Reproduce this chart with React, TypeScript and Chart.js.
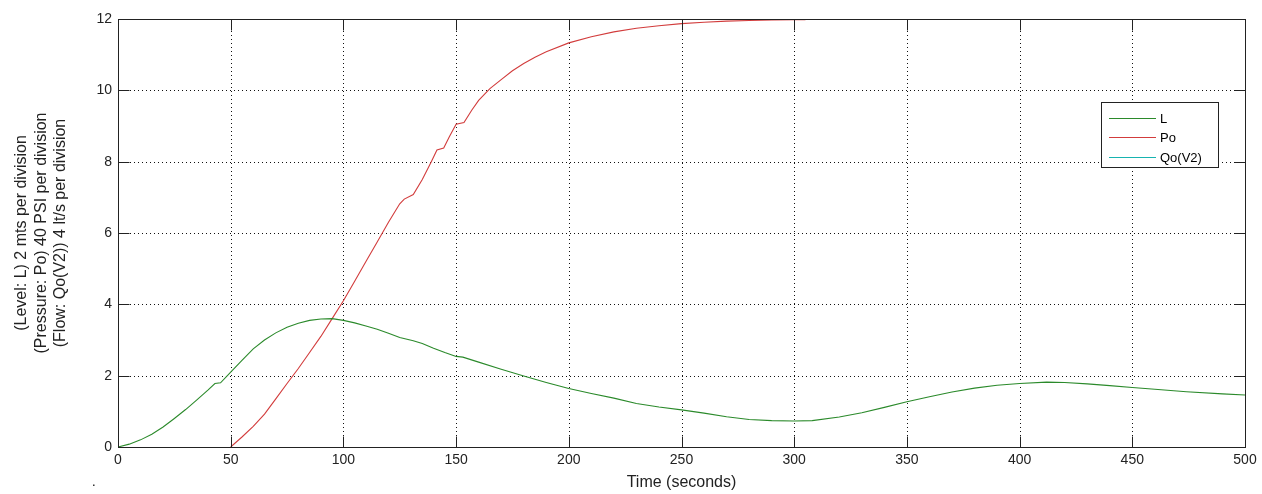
import React, { useEffect, useRef } from "react";
import { Chart, registerables } from "chart.js";

Chart.register(...registerables);

// ---- data ----
const timeL = [0, 5, 10, 15, 20, 25, 30, 35, 40, 43, 45.5, 50, 55, 60, 65, 70, 75, 80, 85, 90, 95, 100, 105, 110, 115, 120, 125, 131, 135, 140, 145, 150, 153, 160, 170, 180, 190, 200, 210, 220, 230, 240, 250, 260, 270, 280, 290, 300, 308, 320, 330, 340, 350, 360, 370, 380, 390, 400, 412, 420, 430, 440, 450, 460, 474, 490, 500];
const levelL = [0, 0.08, 0.2, 0.36, 0.56, 0.8, 1.05, 1.32, 1.6, 1.78, 1.8, 2.1, 2.43, 2.75, 3.0, 3.2, 3.36, 3.47, 3.55, 3.59, 3.6, 3.55, 3.48, 3.39, 3.3, 3.19, 3.07, 2.98, 2.9, 2.77, 2.65, 2.54, 2.52, 2.38, 2.18, 1.99, 1.81, 1.64, 1.5, 1.37, 1.22, 1.12, 1.04, 0.95, 0.85, 0.77, 0.74, 0.73, 0.74, 0.84, 0.96, 1.11, 1.27, 1.41, 1.54, 1.65, 1.73, 1.78, 1.82, 1.81, 1.77, 1.72, 1.67, 1.62, 1.55, 1.49, 1.46];

const timePo = [50, 55, 60, 65, 70, 75, 80, 85, 90, 95, 100, 105, 110, 115, 120, 125, 127, 131, 135, 139, 141.5, 144.5, 147, 150, 153.5, 157, 160, 165, 170, 175, 180, 185, 190, 200, 210, 220, 230, 240, 250, 260, 270, 280, 290, 300, 305];
const pressurePo = [0, 0.28, 0.58, 0.92, 1.35, 1.78, 2.2, 2.65, 3.1, 3.6, 4.1, 4.65, 5.2, 5.75, 6.3, 6.82, 6.95, 7.08, 7.5, 8.0, 8.33, 8.38, 8.7, 9.05, 9.1, 9.45, 9.72, 10.05, 10.3, 10.55, 10.75, 10.93, 11.08, 11.33, 11.5, 11.64, 11.74, 11.81, 11.87, 11.91, 11.94, 11.96, 11.97, 11.98, 11.98];

const timeQo: number[] = [];
const flowQo: number[] = [];

const seriesNames = ["L", "Po", "Qo(V2)"];
const seriesColors = ["#2b8a2b", "#d23c3c", "#17b3b0"];

const xTicks = [0, 50, 100, 150, 200, 250, 300, 350, 400, 450, 500];
const yTicks = [0, 2, 4, 6, 8, 10, 12];

const xTitle = "Time (seconds)";
const yTitleLines = [
  "(Level: L) 2 mts per division",
  "(Pressure: Po) 40 PSI per division",
  "(Flow: Qo(V2)) 4 lt/s per division",
];

const FONT = "'Liberation Sans', Arial, sans-serif";

const toPoints = (xs: number[], ys: number[]) => xs.map((x, i) => ({ x, y: ys[i] }));

const framePlugin = {
  id: "matlabFrame",
  beforeDatasetsDraw(chart: any) {
    const { ctx, chartArea: a, scales } = chart;
    const x = scales.x;
    const y = scales.y;
    ctx.save();
    ctx.strokeStyle = "#111";
    ctx.lineWidth = 1;
    ctx.setLineDash([1, 3]);
    xTicks.forEach((v) => {
      if (v === xTicks[0] || v === xTicks[xTicks.length - 1]) return;
      const px = Math.round(x.getPixelForValue(v)) + 0.5;
      ctx.beginPath();
      ctx.moveTo(px, a.top);
      ctx.lineTo(px, a.bottom);
      ctx.stroke();
    });
    yTicks.forEach((v) => {
      if (v === yTicks[0] || v === yTicks[yTicks.length - 1]) return;
      const py = Math.round(y.getPixelForValue(v)) + 0.5;
      ctx.beginPath();
      ctx.moveTo(a.left, py);
      ctx.lineTo(a.right, py);
      ctx.stroke();
    });
    ctx.restore();
  },
  afterDatasetsDraw(chart: any) {
    const { ctx, chartArea: a, scales } = chart;
    const x = scales.x;
    const y = scales.y;
    const L = Math.round(a.left) + 0.5;
    const R = Math.round(a.right) + 0.5;
    const T = Math.round(a.top) + 0.5;
    const B = Math.round(a.bottom) + 0.5;
    const tl = 11;
    ctx.save();
    ctx.setLineDash([]);
    ctx.strokeStyle = "#222";
    ctx.lineWidth = 1;
    ctx.strokeRect(L, T, R - L, B - T);
    ctx.beginPath();
    xTicks.forEach((v) => {
      const px = Math.round(x.getPixelForValue(v)) + 0.5;
      ctx.moveTo(px, B);
      ctx.lineTo(px, B - tl);
      ctx.moveTo(px, T);
      ctx.lineTo(px, T + tl);
    });
    yTicks.forEach((v) => {
      const py = Math.round(y.getPixelForValue(v)) + 0.5;
      ctx.moveTo(L, py);
      ctx.lineTo(L + tl, py);
      ctx.moveTo(R, py);
      ctx.lineTo(R - tl, py);
    });
    ctx.stroke();

    // legend box
    const bx = 1101.5, by = 102.5, bw = 117, bh = 65;
    ctx.fillStyle = "#fff";
    ctx.fillRect(bx, by, bw, bh);
    ctx.strokeStyle = "#222";
    ctx.strokeRect(bx, by, bw, bh);
    ctx.font = `13px ${FONT}`;
    ctx.textBaseline = "middle";
    ctx.textAlign = "left";
    seriesNames.forEach((name, i) => {
      const ry = Math.round(118 + i * 19.3) + 0.5;
      ctx.strokeStyle = seriesColors[i];
      ctx.lineWidth = 1.2;
      ctx.beginPath();
      ctx.moveTo(1109, ry);
      ctx.lineTo(1156, ry);
      ctx.stroke();
      ctx.fillStyle = "#000";
      ctx.fillText(name, 1160, ry + 0.5);
    });

    // stray dot bottom-left
    ctx.fillStyle = "#000";
    ctx.font = `13px ${FONT}`;
    ctx.fillText(".", 92, 482);
    ctx.restore();
  },
};

export default function App() {
  const ref = useRef<HTMLCanvasElement | null>(null);
  useEffect(() => {
    if (!ref.current) return;
    const chart = new Chart(ref.current, {
      type: "line",
      data: {
        datasets: [
          { label: seriesNames[0], data: toPoints(timeL, levelL), borderColor: seriesColors[0], backgroundColor: seriesColors[0] },
          { label: seriesNames[1], data: toPoints(timePo, pressurePo), borderColor: seriesColors[1], backgroundColor: seriesColors[1] },
          { label: seriesNames[2], data: toPoints(timeQo, flowQo), borderColor: seriesColors[2], backgroundColor: seriesColors[2] },
        ],
      },
      options: {
        animation: false,
        responsive: false,
        maintainAspectRatio: false,
        elements: {
          point: { radius: 0, hoverRadius: 0 },
          line: { borderWidth: 1.1, tension: 0 },
        },
        layout: { padding: { top: 19, right: 17, left: 0, bottom: 0 } },
        plugins: {
          legend: { display: false },
          tooltip: { enabled: false },
        },
        scales: {
          x: {
            type: "linear",
            min: 0,
            max: 500,
            afterBuildTicks: (s: any) => {
              s.ticks = xTicks.map((v) => ({ value: v }));
            },
            ticks: { color: "#222", font: { family: FONT, size: 14 }, padding: 5, maxRotation: 0, autoSkip: false },
            grid: { display: false, drawTicks: false },
            border: { display: false },
            title: {
              display: true,
              text: xTitle,
              color: "#222",
              font: { family: FONT, size: 16, lineHeight: 1.2 },
              padding: { top: 0, bottom: 2 },
            },
            afterFit: (s: any) => {
              s.height = 47;
            },
          },
          y: {
            type: "linear",
            min: 0,
            max: 12,
            afterBuildTicks: (s: any) => {
              s.ticks = yTicks.map((v) => ({ value: v }));
            },
            ticks: { color: "#222", font: { family: FONT, size: 14 }, padding: 6, autoSkip: false },
            grid: { display: false, drawTicks: false },
            border: { display: false },
            title: {
              display: true,
              text: yTitleLines,
              color: "#222",
              font: { family: FONT, size: 16, lineHeight: 1.22 },
              padding: { top: 12, bottom: 0 },
            },
            afterFit: (s: any) => {
              s.width = 118;
            },
          },
        },
      },
      plugins: [framePlugin],
    } as any);
    return () => chart.destroy();
  }, []);
  return (
    <div style={{ position: "fixed", left: 0, top: 0, width: 1262, height: 494, background: "#fff" }}>
      <canvas ref={ref} width={1262} height={494} style={{ display: "block", width: 1262, height: 494 }} />
    </div>
  );
}
